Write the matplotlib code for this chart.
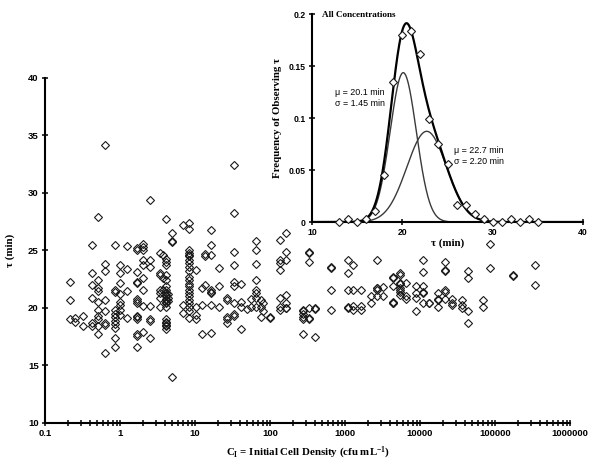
import numpy as np
import matplotlib
matplotlib.use('Agg')
import matplotlib.pyplot as plt
from matplotlib.ticker import FixedLocator, FixedFormatter, LogLocator, NullFormatter

plt.rcParams['mathtext.fontset'] = 'custom'
plt.rcParams['mathtext.rm'] = 'Liberation Serif:bold'
plt.rcParams['mathtext.it'] = 'Liberation Serif:bold'
plt.rcParams['mathtext.bf'] = 'Liberation Serif:bold'

# ---------------- main scatter data: (initial cell density, tau values) ----------------
columns = [
    (0.215, [22.3, 20.7, 19.0]),
    (0.25, [18.8, 19.1]),
    (0.32, [19.3, 18.4]),
    (0.42, [25.5, 23.0, 22.0, 20.9, 18.7, 18.4]),
    (0.51, [27.9, 22.4, 21.7, 21.5, 20.5, 19.8, 19.3, 19.0, 18.4, 17.7]),
    (0.63, [34.2, 23.8, 23.2, 20.7, 19.7, 18.7, 18.5, 16.1]),
    (0.86, [25.5, 21.6, 21.4, 19.8, 19.5, 19.2, 18.9, 18.6, 18.3, 17.4, 16.6]),
    (1.0, [23.7, 23.0, 22.2, 21.2, 20.5, 20.3, 19.8, 19.4]),
    (1.24, [25.4, 23.4, 21.5, 19.1]),
    (1.69, [25.2, 25.0, 23.1, 22.3, 22.2, 20.8, 20.6, 20.4, 19.3, 19.2, 19.0, 17.7, 17.6, 16.6]),
    (2.03, [25.6, 25.3, 25.0, 24.2, 23.7, 22.6, 21.6, 20.2, 17.9]),
    (2.51, [29.4, 24.2, 23.6, 20.2, 19.0, 18.9, 17.4]),
    (3.4, [24.8, 23.0, 22.9, 21.6, 21.3, 20.9, 20.1]),
    (3.7, [24.6, 22.6, 21.6]),
    (4.1, [27.7, 24.3, 24.0, 23.7, 22.9, 22.4, 21.9, 21.6, 21.3, 21.1, 21.0, 20.8, 20.7,
           20.5, 20.4, 20.1, 19.0, 18.8, 18.7, 18.5, 18.4, 18.2]),
    (4.3, [21.2, 20.9, 20.6]),
    (4.9, [26.5, 25.7, 25.8, 14.0]),
    (6.9, [27.2, 20.3, 19.6]),
    (8.3, [27.4, 26.9, 25.0, 24.8, 24.6, 24.5, 24.2, 23.9, 23.6, 23.2, 22.7, 22.4, 22.1,
           21.9, 21.6, 21.3, 21.0, 20.7, 20.4, 20.1, 19.7, 19.1]),
    (10.3, [23.3, 20.1, 19.4, 19.0]),
    (12.4, [21.7, 20.3, 17.7]),
    (13.6, [24.7, 24.5, 22.0]),
    (16.4, [26.8, 25.5, 24.6, 21.6, 21.4, 21.3, 20.3, 17.8]),
    (20.9, [23.5, 21.9, 20.1]),
    (26.4, [20.9, 20.7, 19.2, 19.0, 18.7]),
    (33.0, [32.4, 28.3, 24.9, 23.7, 22.3, 21.9, 20.4, 19.5, 19.3]),
    (41.0, [22.1, 20.5, 20.1, 18.2]),
    (49.0, [19.9]),
    (55.0, [20.8, 20.1]),
    (65.0, [25.8, 25.0, 23.8, 22.4, 21.6, 21.3, 20.9, 20.1]),
    (75.0, [20.7, 20.1, 19.2]),
    (80.0, [20.4, 19.7]),
    (100.0, [19.2, 19.1]),
    (136.0, [25.9, 24.2, 23.9, 23.3, 20.9, 19.8, 20.1]),
    (163.0, [26.5, 24.9, 24.2, 21.1, 20.4, 20.0, 20.0]),
    (275.0, [19.5, 19.2, 19.0, 19.7, 19.8, 17.7]),
    (330.0, [24.9, 24.8, 24.0, 20.0, 19.0, 19.1]),
    (400.0, [20.0, 17.5, 19.9]),
    (660.0, [23.6, 23.5, 21.6, 19.8]),
    (1100.0, [24.2, 23.0, 21.6, 20.1, 20.0]),
    (1290.0, [23.7, 21.6, 19.8, 20.2]),
    (1640.0, [21.6, 20.2, 19.8]),
    (2200.0, [21.0, 20.4]),
    (2700.0, [24.2, 21.7, 21.6, 21.7, 21.0]),
    (3200.0, [21.8, 21.0]),
    (4400.0, [22.7, 22.6, 21.9, 20.5, 20.4, 20.4]),
    (5400.0, [23.0, 22.9, 22.2, 22.1, 21.7, 21.6, 21.4, 21.1]),
    (6500.0, [22.2, 20.8, 21.0]),
    (8900.0, [21.9, 21.3, 20.9, 19.7]),
    (11000.0, [24.2, 23.1, 21.9, 21.4, 21.3, 20.4]),
    (13000.0, [20.4, 20.4]),
    (17500.0, [21.3, 20.8, 20.7, 20.1]),
    (21500.0, [24.0, 23.3, 23.2, 21.6, 21.4, 20.8]),
    (26500.0, [20.8, 20.4, 20.3]),
    (36000.0, [20.3, 20.0, 20.7]),
    (44000.0, [23.2, 22.6, 19.7, 18.7]),
    (70000.0, [20.7, 20.1]),
    (86000.0, [25.6, 23.5]),
    (172000.0, [22.9, 22.8]),
    (340000.0, [23.7, 22.0]),
]
density = [c for c, taus in columns for _ in taus]
tau = [t for c, taus in columns for t in taus]

x_ticks = [0.1, 1, 10, 100, 1000, 10000, 100000, 1000000]
x_tick_labels = ['0.1', '1', '10', '100', '1000', '10000', '100000', '1000000']
y_ticks = [10, 15, 20, 25, 30, 35, 40]

# ---------------- inset: frequency histogram and fitted normal components ----------------
hist_tau = [13, 14, 15, 16, 17, 18, 19, 20, 21, 22, 23, 24, 25, 26, 27, 28, 29, 30, 31, 32, 33, 34, 35]
hist_freq = [0.0, 0.0026, 0.0, 0.0026, 0.0103, 0.0456, 0.1345, 0.180, 0.1836, 0.1615, 0.0995,
             0.0754, 0.0562, 0.016, 0.016, 0.008, 0.0026, 0.0, 0.0, 0.0026, 0.0, 0.0026, 0.0]
comp_mu = [20.1, 22.7]
comp_sigma = [1.45, 2.20]
comp_weight = [0.522, 0.481]

# ---------------- figure ----------------
fig = plt.figure(figsize=(6.0, 4.68), dpi=100)
ax = fig.add_axes([0.075, 0.0962, 0.875, 0.7372])

ax.plot(density, tau, linestyle='none', marker='D', markersize=4.4,
        markerfacecolor='none', markeredgecolor='#1a1a1a', markeredgewidth=0.8)

ax.set_xscale('log')
ax.set_xlim(0.1, 1000000)
ax.set_ylim(10, 40)
ax.xaxis.set_major_locator(FixedLocator(x_ticks))
ax.xaxis.set_major_formatter(FixedFormatter(x_tick_labels))
ax.xaxis.set_minor_locator(LogLocator(base=10, subs=np.arange(2, 10), numticks=20))
ax.xaxis.set_minor_formatter(NullFormatter())
ax.set_yticks(y_ticks)
for s in ['top', 'right']:
    ax.spines[s].set_visible(False)
for s in ['left', 'bottom']:
    ax.spines[s].set_linewidth(1.5)
ax.tick_params(axis='both', which='both', direction='inout', length=5, width=1.1,
               labelsize=6.8, pad=2)
for lab in ax.get_xticklabels() + ax.get_yticklabels():
    lab.set_fontfamily('Liberation Sans')
    lab.set_fontweight('bold')

ax.set_xlabel(r'C$_{\mathrm{I}}$ = Initial Cell Density (cfu mL$^{\mathrm{-1}}$)',
              fontfamily='Liberation Serif', fontweight='bold', fontsize=7.8, labelpad=5)
ax.set_ylabel('τ (min)', fontfamily='Liberation Serif', fontweight='bold', fontsize=7.8, labelpad=9)

# inset
ax2 = fig.add_axes([0.52, 0.5256, 0.4517, 0.4444])
ax2.patch.set_alpha(0)
grid = np.linspace(10, 40, 600)
comps = []
for mu, sg, w in zip(comp_mu, comp_sigma, comp_weight):
    g = w / (sg * np.sqrt(2 * np.pi)) * np.exp(-0.5 * ((grid - mu) / sg) ** 2)
    comps.append(g)
    ax2.plot(grid, g, color='#3a3a3a', linewidth=1.0)
ax2.plot(grid, comps[0] + comps[1], color='black', linewidth=1.6)
ax2.plot(hist_tau, hist_freq, linestyle='none', marker='D', markersize=4.2,
         markerfacecolor='white', markeredgecolor='#1a1a1a', markeredgewidth=0.8, zorder=5,
         clip_on=False)

ax2.set_xlim(10, 40)
ax2.set_ylim(0, 0.2)
ax2.set_xticks([10, 20, 30, 40])
ax2.set_yticks([0, 0.05, 0.1, 0.15, 0.2])
ax2.set_yticklabels(['0', '0.05', '0.1', '0.15', '0.2'])
for s in ['top', 'right']:
    ax2.spines[s].set_visible(False)
for s in ['left', 'bottom']:
    ax2.spines[s].set_linewidth(1.5)
ax2.tick_params(axis='both', which='both', direction='inout', length=5, width=1.1,
                labelsize=6.2, pad=2)
for lab in ax2.get_xticklabels() + ax2.get_yticklabels():
    lab.set_fontfamily('Liberation Sans')
    lab.set_fontweight('bold')
ax2.set_xlabel('τ (min)', fontfamily='Liberation Serif', fontweight='bold', fontsize=7.8, labelpad=1)
ax2.set_ylabel('Frequency of Observing τ', fontfamily='Liberation Serif', fontweight='bold',
               fontsize=7.8, labelpad=5)

ax2.text(11.1, 0.199, 'All Concentrations', fontfamily='Liberation Serif', fontweight='bold',
         fontsize=6.6, ha='left', va='center')
ax2.text(12.6, 0.1195, 'μ = 20.1 min\nσ = 1.45 min', fontfamily='Liberation Sans',
         fontsize=6.4, ha='left', va='center', linespacing=1.25)
ax2.text(25.7, 0.0635, 'μ = 22.7 min\nσ = 2.20 min', fontfamily='Liberation Sans',
         fontsize=6.4, ha='left', va='center', linespacing=1.25)

fig.savefig('out.png', dpi=100)
